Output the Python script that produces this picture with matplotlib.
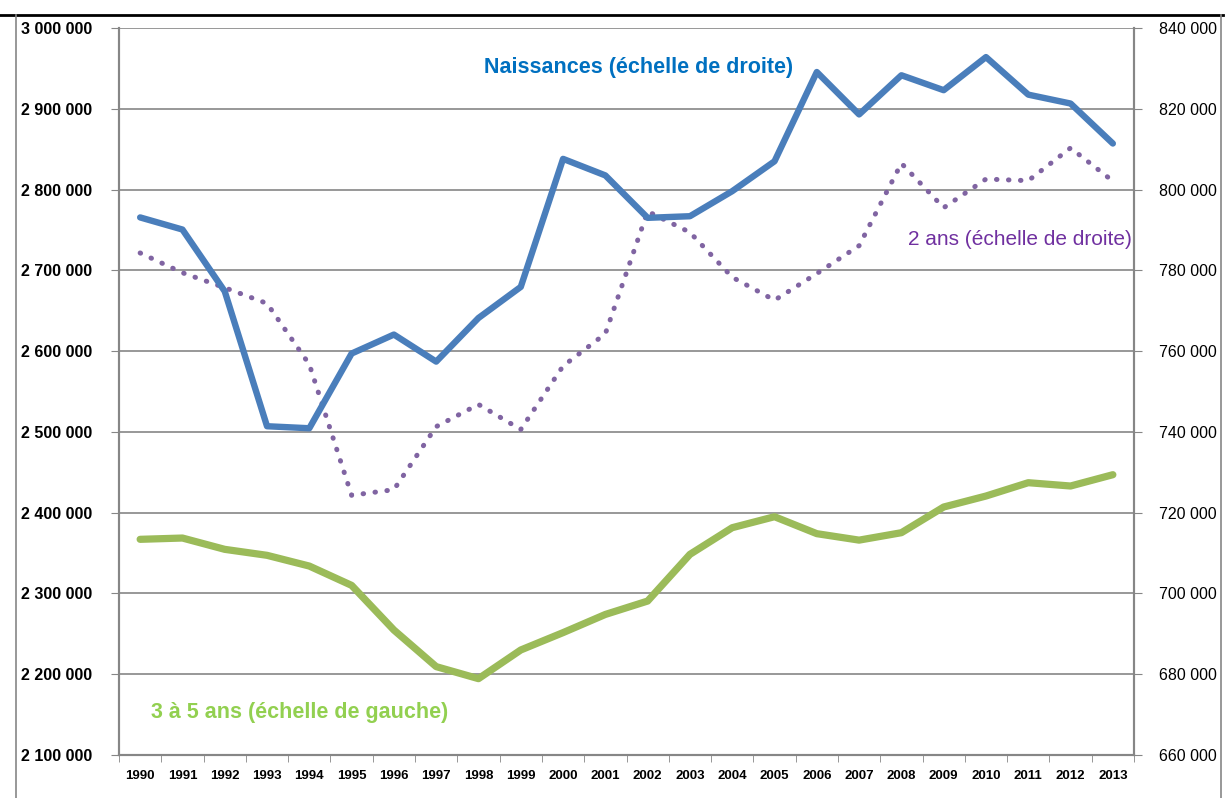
import numpy as np
import matplotlib.pyplot as plt
from matplotlib.lines import Line2D

annees = [str(a) for a in range(1990, 2014)]

# naissances (echelle de droite)
naissances = [793.1, 790.1, 774.8, 741.4, 740.9, 759.4, 764.1, 757.4, 768.2, 775.9,
              807.6, 803.5, 793.0, 793.4, 799.6, 807.0, 829.1, 818.6, 828.3, 824.6,
              832.8, 823.5, 821.3, 811.4]
naissances = [v * 1000 for v in naissances]

# 2 ans (echelle de droite)
deux_ans = [784.3, 779.4, 775.7, 771.8, 756.7, 724.3, 725.7, 741.3, 746.8, 740.6,
            756.3, 764.3, 794.6, 789.4, 778.3, 772.6, 779.2, 786.1, 806.5, 795.5,
            802.6, 802.2, 810.3, 802.1]
deux_ans = [v * 1000 for v in deux_ans]

# 3 a 5 ans (echelle de gauche)
trois_cinq = [2367.0, 2368.6, 2354.6, 2347.2, 2333.9, 2310.0, 2254.7, 2209.4, 2194.5, 2230.0,
              2251.5, 2274.0, 2290.6, 2348.4, 2381.4, 2395.0, 2374.0, 2366.0, 2375.2, 2407.0,
              2420.6, 2437.1, 2433.0, 2447.0]
trois_cinq = [v * 1000 for v in trois_cinq]

ticks_gauche = list(range(2100000, 3000001, 100000))
ticks_droite = list(range(660000, 840001, 20000))

police = ['Liberation Sans', 'DejaVu Sans']
gris = '#868686'

def fmt(v):
    return f"{v:,}".replace(",", " ")

fig = plt.figure(figsize=(12.27, 7.98), dpi=100)
ax = fig.add_axes([119 / 1227, 1 - 755 / 798, (1134 - 119) / 1227, 727 / 798])
ax2 = ax.twinx()

x = np.arange(len(annees))

ax.plot(x, trois_cinq, color='#9BBB59', lw=5.2, solid_capstyle='round', solid_joinstyle='round')
ax2.plot(x, deux_ans, color='#8064A2', lw=3.6, linestyle=(0, (0.1, 2.3)), dash_capstyle='round')
ax2.plot(x, naissances, color='#4A7EBB', lw=4.6, solid_capstyle='round', solid_joinstyle='round')

ax.set_xlim(-0.5, len(annees) - 0.5)
ax.set_ylim(2100000, 3000000)
ax2.set_ylim(660000, 840000)

ax.set_yticks(ticks_gauche)
ax.set_yticklabels([fmt(v) for v in ticks_gauche], fontfamily=police, fontweight='bold', fontsize=11.5)
ax2.set_yticks(ticks_droite)
ax2.set_yticklabels([fmt(v) for v in ticks_droite], fontfamily=police, fontsize=11.5)

ax.set_xticks(x)
ax.set_xticklabels(annees, fontfamily=police, fontweight='bold', fontsize=9.5)
ax.set_xticks(np.arange(-0.5, len(annees), 1), minor=True)
ax.tick_params(axis='x', which='major', length=0, pad=11)
ax.tick_params(axis='x', which='minor', length=5, color=gris, direction='out')
ax.tick_params(axis='y', length=6, color=gris, pad=13)
ax2.tick_params(axis='y', length=6, color=gris, pad=12)

ax.grid(axis='y', color=gris, lw=1.2)
ax.set_axisbelow(True)
for a in (ax, ax2):
    a.spines['top'].set_visible(False)
    for s in ('left', 'right', 'bottom'):
        a.spines[s].set_color(gris)
        a.spines[s].set_linewidth(1.5)

ax2.text(0.512, 0.945, 'Naissances (échelle de droite)', transform=ax.transAxes, ha='center', va='center',
         color='#0070C0', fontweight='bold', fontsize=15.5, fontfamily=police)
ax2.text(0.998, 0.709, '2 ans (échelle de droite)', transform=ax.transAxes, ha='right', va='center',
         color='#7030A0', fontsize=15, fontfamily=police)
ax2.text(0.032, 0.059, '3 à 5 ans (échelle de gauche)', transform=ax.transAxes, ha='left', va='center',
         color='#92D050', fontweight='bold', fontsize=15.5, fontfamily=police)

# cadre
fig.add_artist(Line2D([0, 1223 / 1227], [1 - 15 / 798] * 2, color='black', lw=2))
fig.add_artist(Line2D([16 / 1227] * 2, [0, 1 - 15 / 798], color=gris, lw=1.2))
fig.add_artist(Line2D([1221 / 1227] * 2, [0, 1 - 15 / 798], color=gris, lw=1.2))

fig.savefig('out.png', dpi=100)
